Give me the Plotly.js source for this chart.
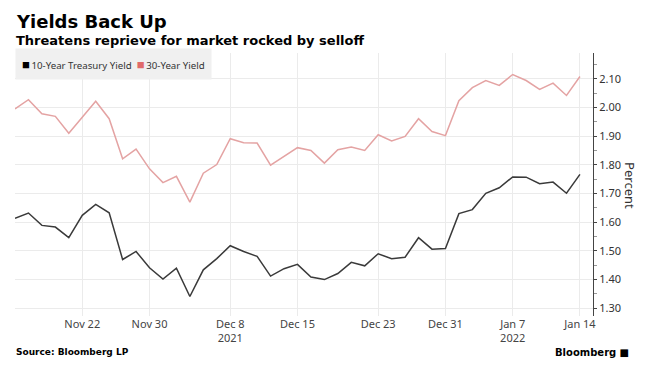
<!DOCTYPE html>
<html>
<head>
<meta charset="utf-8">
<script src="https://cdn.plot.ly/plotly-3.0.1.min.js"></script>
<style>html,body{margin:0;padding:0;background:#fff;}#chart{width:654px;height:366px;}</style>
</head>
<body>
<div id="chart"></div>
<script>
const dates = ['2021-11-15','2021-11-16','2021-11-17','2021-11-18','2021-11-19','2021-11-22','2021-11-23','2021-11-24','2021-11-26','2021-11-29','2021-11-30',
  '2021-12-01','2021-12-02','2021-12-03','2021-12-06','2021-12-07','2021-12-08','2021-12-09','2021-12-10','2021-12-13','2021-12-14','2021-12-15','2021-12-16','2021-12-17','2021-12-20','2021-12-21','2021-12-22','2021-12-23','2021-12-27','2021-12-28','2021-12-29','2021-12-30','2021-12-31',
  '2022-01-03','2022-01-04','2022-01-05','2022-01-06','2022-01-07','2022-01-10','2022-01-11','2022-01-12','2022-01-13','2022-01-14'];
const yield10 = [1.614,1.632,1.589,1.583,1.546,1.624,1.662,1.633,1.470,1.498,1.441,
  1.402,1.440,1.341,1.434,1.473,1.518,1.498,1.481,1.412,1.438,1.453,1.409,1.400,1.421,1.460,1.448,1.490,1.473,1.478,1.546,1.506,1.508,
  1.630,1.644,1.701,1.720,1.758,1.757,1.734,1.740,1.701,1.767];
const yield30 = [1.995,2.027,1.978,1.969,1.910,1.966,2.022,1.961,1.821,1.855,1.786,
  1.738,1.760,1.670,1.771,1.801,1.891,1.877,1.876,1.799,1.829,1.860,1.850,1.806,1.853,1.862,1.850,1.905,1.883,1.899,1.961,1.916,1.902,
  2.024,2.069,2.094,2.077,2.115,2.094,2.063,2.085,2.042,2.108];
const tickDates = ['2021-11-15','2021-11-22','2021-11-30','2021-12-08','2021-12-15','2021-12-23','2021-12-31','2022-01-07','2022-01-14'];
const tickLabels = ['','Nov 22','Nov 30','Dec 8<br>2021','Dec 15','Dec 23','Dec 31','Jan 7<br>2022','Jan 14'];
const seriesNames = ['10-Year Treasury Yield','30-Year Yield'];

const c10 = '#3a3a3a', c30 = '#e4a3a3', sq30 = '#e06a6a';
const traces = [
  {x: dates, y: yield30, type: 'scatter', mode: 'lines', name: seriesNames[1], line: {color: c30, width: 1.5}, hoverinfo: 'skip'},
  {x: dates, y: yield10, type: 'scatter', mode: 'lines', name: seriesNames[0], line: {color: c10, width: 1.5}, hoverinfo: 'skip'}
];
const font = "'Noto Sans', sans-serif";
const bold = "'DejaVu Sans', sans-serif";
const sq = (c) => '<span style="color:' + c + ';font-size:13px">■</span>\u2009';
const layout = {
  width: 654, height: 366,
  margin: {l: 15, r: 61, t: 53, b: 50},
  paper_bgcolor: '#fff', plot_bgcolor: '#fff',
  showlegend: false,
  font: {family: font, size: 11, color: '#444'},
  xaxis: {
    type: 'category', range: [0, 42.97],
    tickmode: 'array', tickvals: tickDates, ticktext: tickLabels,
    showgrid: true, gridcolor: '#ebebeb', gridwidth: 1,
    ticks: '', showline: false, zeroline: false,
    tickfont: {family: font, size: 11, color: '#444'}
  },
  yaxis: {
    side: 'right', range: [1.273, 2.19], dtick: 0.1, tick0: 1.3, tickformat: '.2f',
    showgrid: true, gridcolor: '#ebebeb', zeroline: false,
    showline: true, linecolor: '#444', linewidth: 1,
    ticks: 'outside', ticklen: 3, tickcolor: '#444', tickwidth: 1,
    minor: {dtick: 0.05, tick0: 1.3, ticks: 'outside', ticklen: 3, tickcolor: '#999', showgrid: false},
    tickfont: {family: font, size: 11, color: '#333'}
  },
  annotations: [
    {xref: 'paper', yref: 'paper', x: 0, y: 1.118, xanchor: 'left', yanchor: 'middle', showarrow: false,
     text: '<b>Yields Back Up</b>', font: {family: bold, size: 18, color: '#000'}, xshift: -1},
    {xref: 'paper', yref: 'paper', x: 0, y: 1.046, xanchor: 'left', yanchor: 'middle', showarrow: false,
     text: '<b>Threatens reprieve for market rocked by selloff</b>', font: {family: bold, size: 13, color: '#000'}, xshift: -1},
    {xref: 'paper', yref: 'paper', x: 0, y: 0.958, xanchor: 'left', yanchor: 'middle', showarrow: false,
     text: sq('#000') + seriesNames[0] + '  ' + sq(sq30) + seriesNames[1],
     font: {family: font, size: 9.7, color: '#333'}, bgcolor: '#f0f0f0', borderpad: 6},
    {xref: 'paper', yref: 'paper', x: 1.064, y: 0.494, xanchor: 'center', yanchor: 'middle', showarrow: false,
     text: 'Percent', textangle: 90, font: {family: font, size: 13, color: '#333'}},
    {xref: 'paper', yref: 'paper', x: 0, y: -0.137, xanchor: 'left', yanchor: 'middle', showarrow: false,
     text: '<b>Source: Bloomberg LP</b>', font: {family: bold, size: 9, color: '#000'}, xshift: -1},
    {xref: 'paper', yref: 'paper', x: 1.065, y: -0.137, xanchor: 'right', yanchor: 'middle', showarrow: false,
     text: '<b>Bloomberg</b> ■', font: {family: bold, size: 10, color: '#000'}}
  ]
};
Plotly.newPlot('chart', traces, layout, {staticPlot: true, displayModeBar: false});
</script>
</body>
</html>
